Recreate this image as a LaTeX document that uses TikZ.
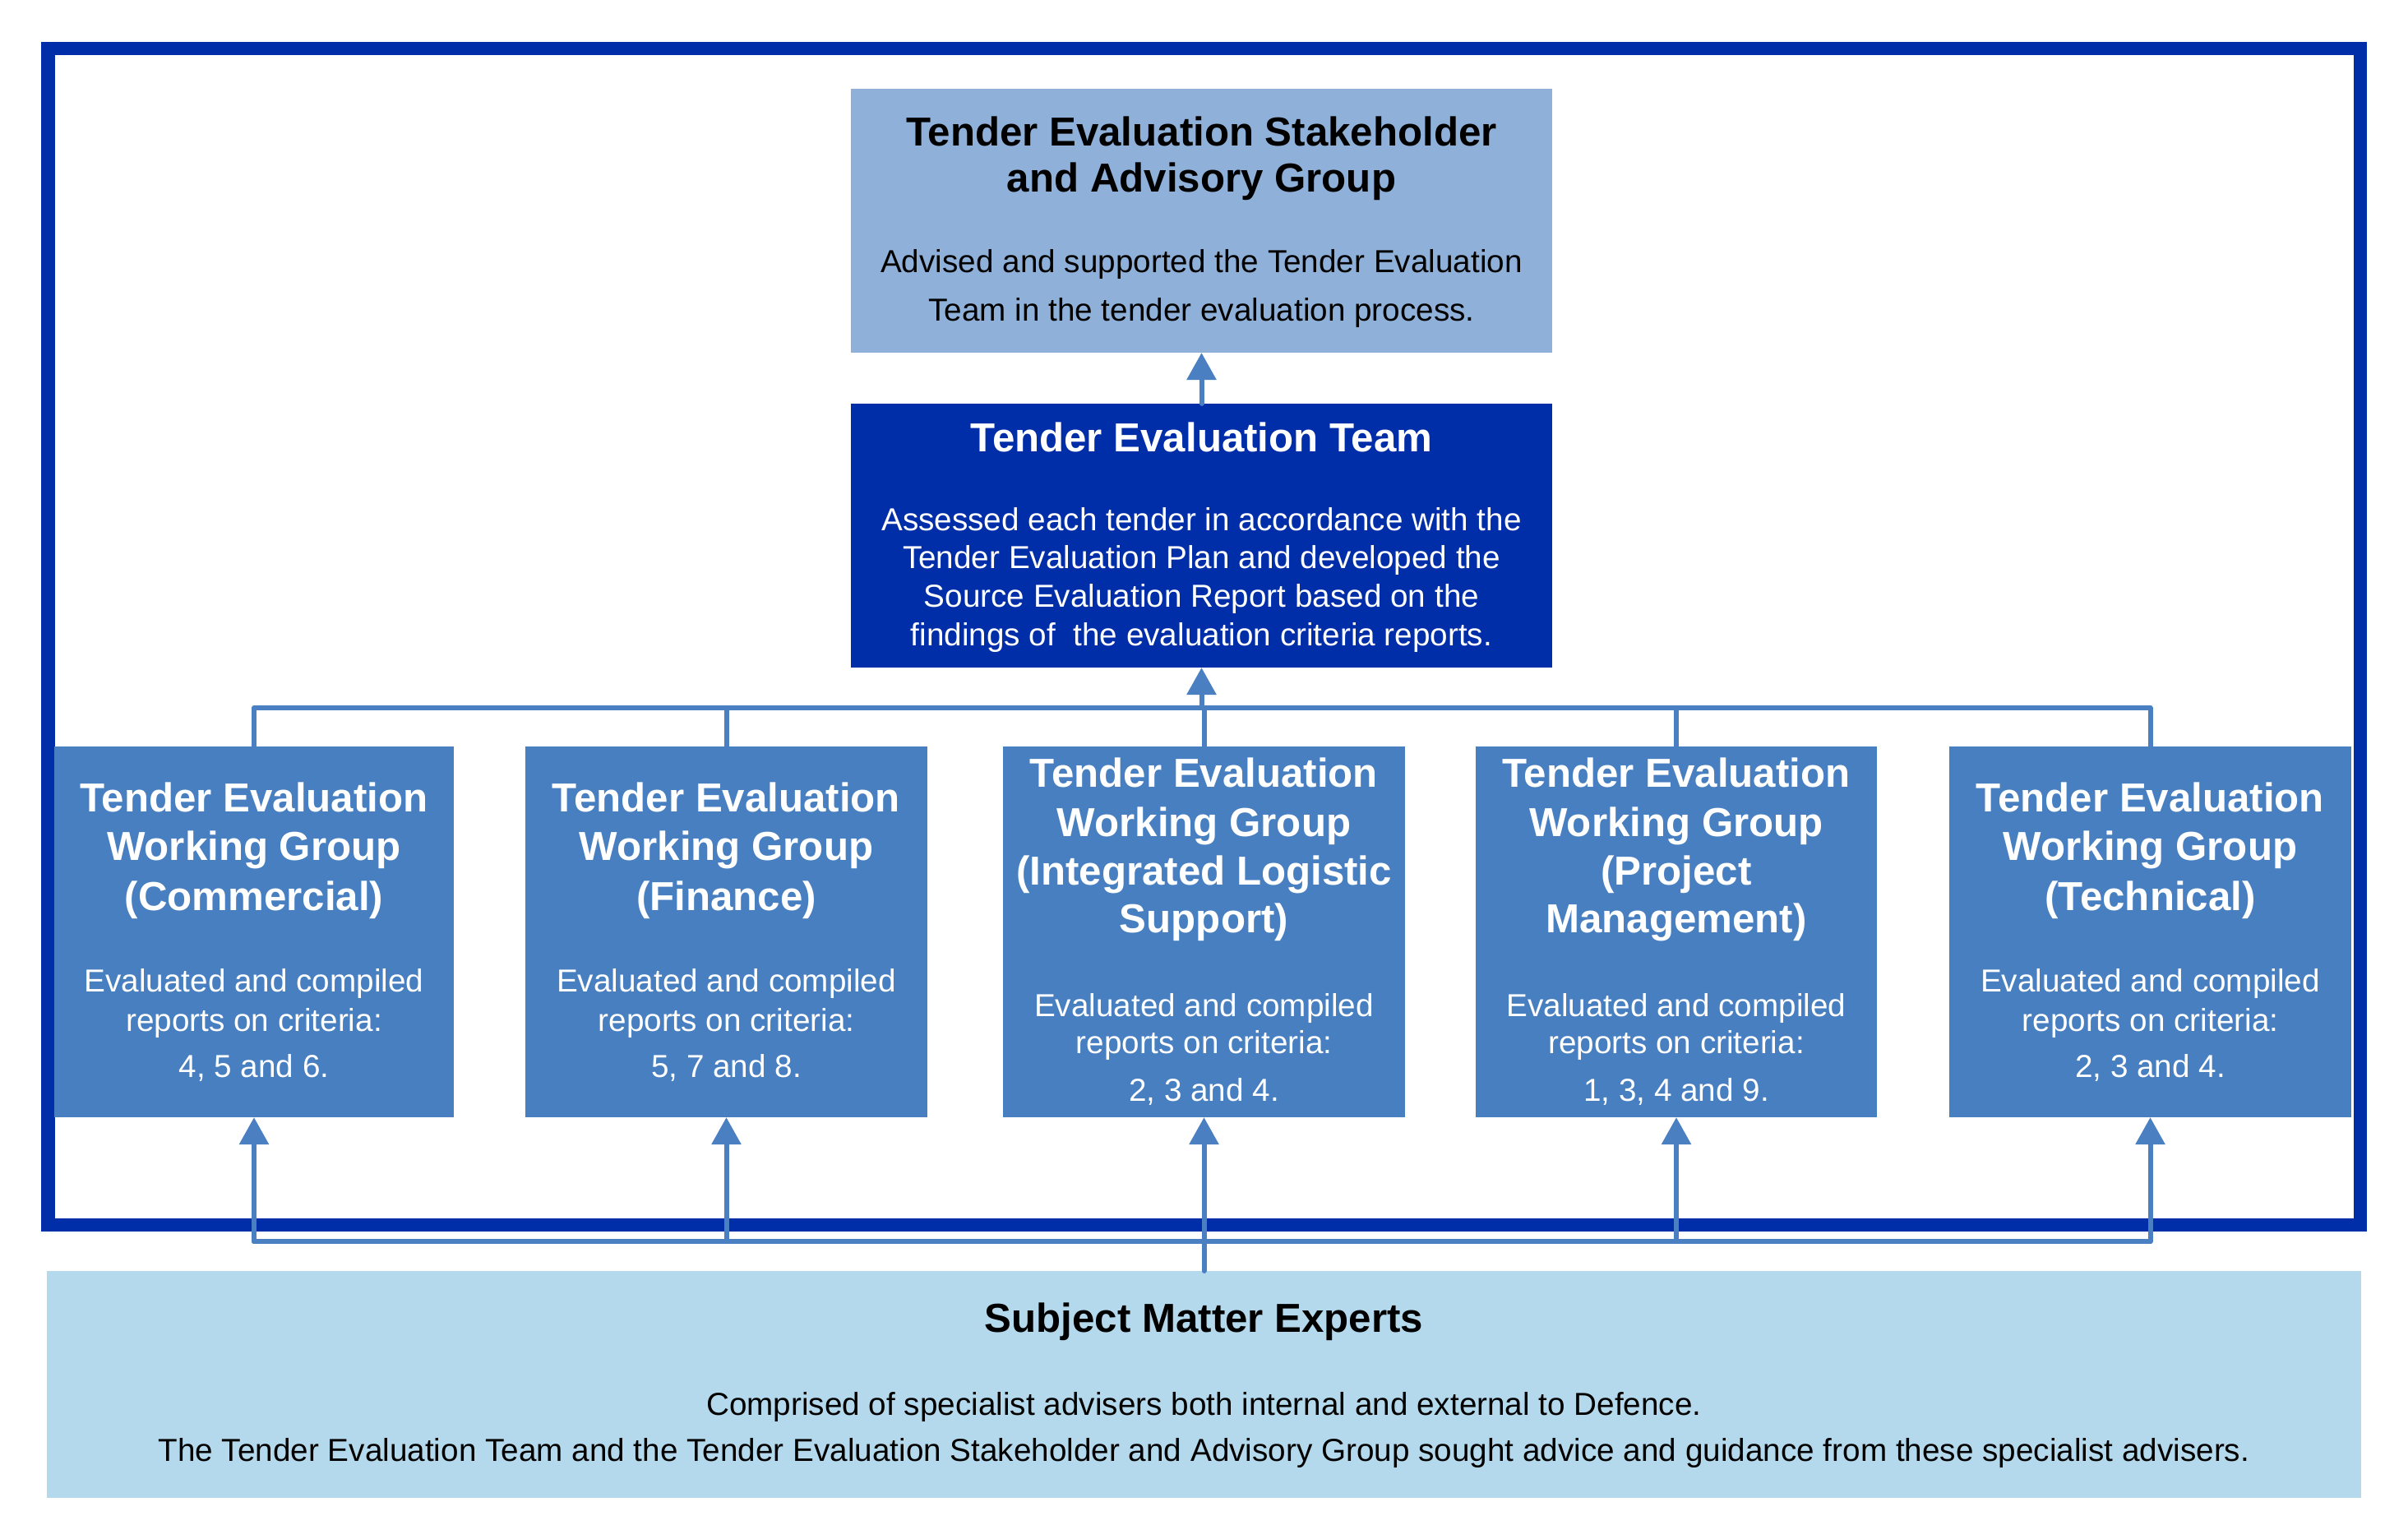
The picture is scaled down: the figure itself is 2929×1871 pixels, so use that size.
\documentclass[tikz,border=0pt]{standalone}
\usepackage{fontspec}
\setmainfont{Liberation Sans}
\usetikzlibrary{arrows.meta}
\definecolor{frameblue}{RGB}{0,45,168}
\definecolor{stakeblue}{RGB}{143,177,217}
\definecolor{wgblue}{RGB}{71,127,193}
\definecolor{connblue}{RGB}{74,127,193}
\definecolor{smeblue}{RGB}{180,217,236}
\tikzset{
  box/.style={rectangle, draw=none, inner sep=0pt, outer sep=0pt},
  ttl/.style={inner sep=0pt, anchor=base, font=\fontsize{14pt}{16pt}\selectfont\bfseries},
  txt/.style={inner sep=0pt, anchor=base, font=\fontsize{11pt}{13pt}\selectfont},
  conn/.style={draw=connblue, line width=0.06cm, line join=round, line cap=round},
  arr/.style={conn, -{Triangle[length=0.33cm, width=0.35cm]}},
}
\begin{document}
\begin{tikzpicture}[x=0.01cm, y=-0.01cm]
\useasboundingbox (0,0) rectangle (2929,1871);
% frame
\draw[frameblue, line width=0.16cm] (58.5,58.5) rectangle (2871,1490);

% boxes
\node[box, fill=stakeblue, minimum width=8.53cm, minimum height=3.21cm] (stake) at (1461.5,268.5) {};
\node[box, fill=frameblue, minimum width=8.53cm, minimum height=3.21cm] (team) at (1461.5,651.5) {};
\node[box, fill=wgblue, minimum width=4.86cm, minimum height=4.51cm] (com) at (309,1133.5) {};
\node[box, fill=wgblue, minimum width=4.88cm, minimum height=4.51cm] (fin) at (883.5,1133.5) {};
\node[box, fill=wgblue, minimum width=4.88cm, minimum height=4.51cm] (ils) at (1464.5,1133.5) {};
\node[box, fill=wgblue, minimum width=4.88cm, minimum height=4.51cm] (pm) at (2039,1133.5) {};
\node[box, fill=wgblue, minimum width=4.88cm, minimum height=4.51cm] (tec) at (2615.5,1133.5) {};
\node[box, fill=smeblue, minimum width=28.13cm, minimum height=2.76cm] (sme) at (1464.5,1684) {};

% texts: stakeholder
\node[ttl] (stake-t1) at (1461.5,177) {Tender Evaluation Stakeholder};
\node[ttl] (stake-t2) at (1461.5,233) {and Advisory Group};
\node[txt] (stake-b1) at (1461.5,331) {Advised and supported the Tender Evaluation};
\node[txt] (stake-b2) at (1461.5,390) {Team in the tender evaluation process.};

% team
\begin{scope}[every node/.append style={text=white}]
\node[ttl] (team-t1) at (1461.5,549) {Tender Evaluation Team};
\node[txt] (team-b1) at (1461.5,645) {Assessed each tender in accordance with the};
\node[txt] (team-b2) at (1461.5,691) {Tender Evaluation Plan and developed the};
\node[txt] (team-b3) at (1461.5,738) {Source Evaluation Report based on the};
\node[txt] (team-b4) at (1461.5,785) {findings of\ \ the evaluation criteria reports.};

% commercial
\node[ttl] (com-t1) at (309,987) {Tender Evaluation};
\node[ttl] (com-t2) at (309,1046) {Working Group};
\node[ttl] (com-t3) at (309,1107) {(Commercial)};
\node[txt] (com-b1) at (309,1206) {Evaluated and compiled};
\node[txt] (com-b2) at (309,1254) {reports on criteria:};
\node[txt] (com-b3) at (309,1310) {4, 5 and 6.};

% finance
\node[ttl] (fin-t1) at (883.5,987) {Tender Evaluation};
\node[ttl] (fin-t2) at (883.5,1046) {Working Group};
\node[ttl] (fin-t3) at (883.5,1107) {(Finance)};
\node[txt] (fin-b1) at (883.5,1206) {Evaluated and compiled};
\node[txt] (fin-b2) at (883.5,1254) {reports on criteria:};
\node[txt] (fin-b3) at (883.5,1310) {5, 7 and 8.};

% ILS
\node[ttl] (ils-t1) at (1464.5,957) {Tender Evaluation};
\node[ttl] (ils-t2) at (1464.5,1017) {Working Group};
\node[ttl] (ils-t3) at (1464.5,1076) {(Integrated Logistic};
\node[ttl] (ils-t4) at (1464.5,1134) {Support)};
\node[txt] (ils-b1) at (1464.5,1236) {Evaluated and compiled};
\node[txt] (ils-b2) at (1464.5,1281) {reports on criteria:};
\node[txt] (ils-b3) at (1464.5,1339) {2, 3 and 4.};

% PM
\node[ttl] (pm-t1) at (2039,957) {Tender Evaluation};
\node[ttl] (pm-t2) at (2039,1017) {Working Group};
\node[ttl] (pm-t3) at (2039,1076) {(Project};
\node[ttl] (pm-t4) at (2039,1134) {Management)};
\node[txt] (pm-b1) at (2039,1236) {Evaluated and compiled};
\node[txt] (pm-b2) at (2039,1281) {reports on criteria:};
\node[txt] (pm-b3) at (2039,1339) {1, 3, 4 and 9.};

% technical
\node[ttl] (tec-t1) at (2615.5,987) {Tender Evaluation};
\node[ttl] (tec-t2) at (2615.5,1046) {Working Group};
\node[ttl] (tec-t3) at (2615.5,1107) {(Technical)};
\node[txt] (tec-b1) at (2615.5,1206) {Evaluated and compiled};
\node[txt] (tec-b2) at (2615.5,1254) {reports on criteria:};
\node[txt] (tec-b3) at (2615.5,1310) {2, 3 and 4.};
\end{scope}

% SME
\node[ttl] (sme-t1) at (1464.5,1620) {Subject Matter Experts};
\node[txt] (sme-b1) at (1464.5,1721) {Comprised of specialist advisers both internal and external to Defence.};
\node[txt] (sme-b2) at (1464.5,1777) {The Tender Evaluation Team and the Tender Evaluation Stakeholder and Advisory Group sought advice and guidance from these specialist advisers.};

% connectors
\coordinate (bust) at (0,861);
\coordinate (busb) at (0,1510);
\draw[arr] (team.north) -- (stake.south);
\draw[conn] (com.north) -- (com.north |- bust) -- (tec.north |- bust) -- (tec.north);
\draw[conn] (fin.north) -- (fin.north |- bust);
\draw[conn] (ils.north) -- (ils.north |- bust);
\draw[conn] (pm.north) -- (pm.north |- bust);
\draw[arr] (team.south |- bust) -- (team.south);

\draw[conn] (com.south |- busb) -- (tec.south |- busb);
\draw[arr] (sme.north) -- (ils.south);
\draw[arr] (com.south |- busb) -- (com.south);
\draw[arr] (fin.south |- busb) -- (fin.south);
\draw[arr] (pm.south |- busb) -- (pm.south);
\draw[arr] (tec.south |- busb) -- (tec.south);
\end{tikzpicture}
\end{document}
